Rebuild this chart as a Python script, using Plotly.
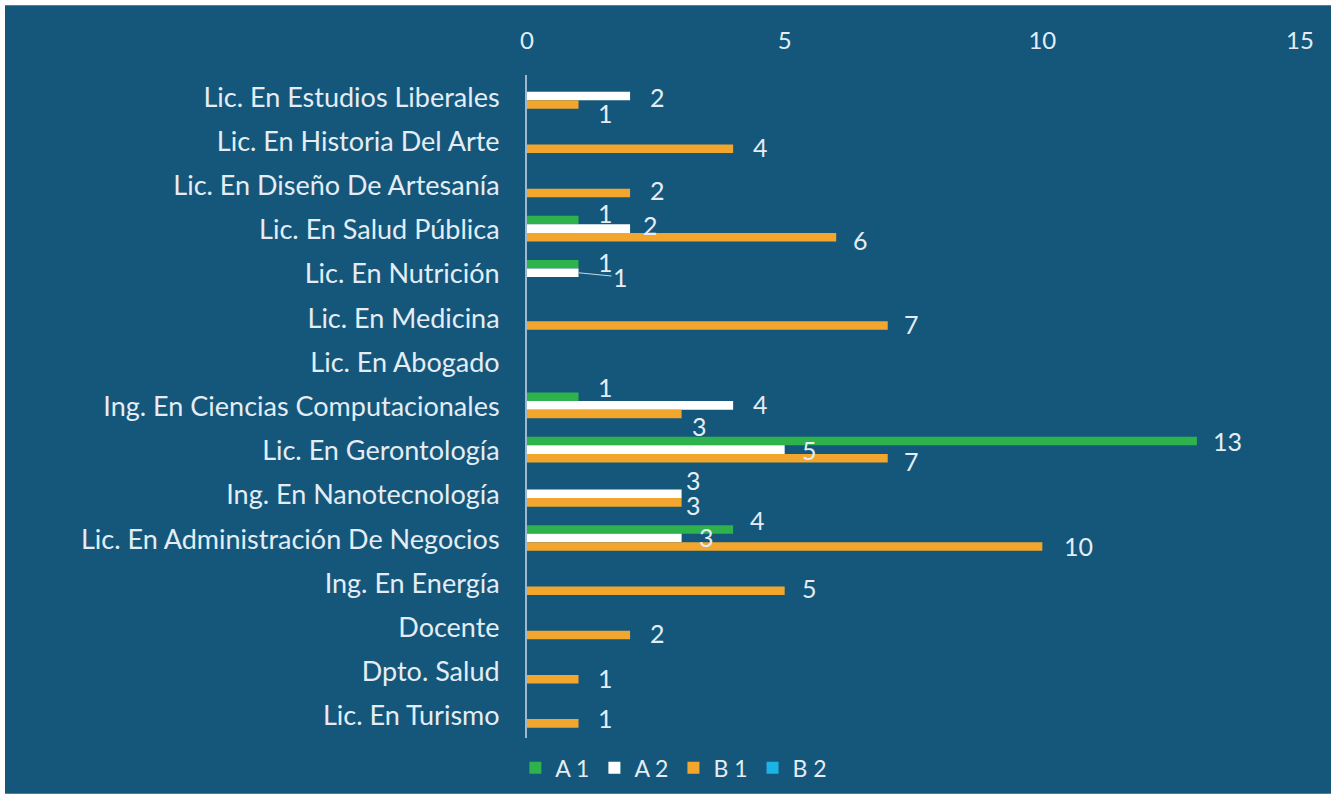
import plotly.graph_objects as go

categories = [
    "Lic. En Estudios Liberales",
    "Lic. En Historia Del Arte",
    "Lic. En Diseño De Artesanía",
    "Lic. En Salud Pública",
    "Lic. En Nutrición",
    "Lic. En Medicina",
    "Lic. En Abogado",
    "Ing. En Ciencias Computacionales",
    "Lic. En Gerontología",
    "Ing. En Nanotecnología",
    "Lic. En Administración De Negocios",
    "Ing. En Energía",
    "Docente",
    "Dpto. Salud",
    "Lic. En Turismo",
]
a1 = [0, 0, 0, 1, 1, 0, 0, 1, 13, 0, 4, 0, 0, 0, 0]
a2 = [2, 0, 0, 2, 1, 0, 0, 4, 5, 3, 3, 0, 0, 0, 0]
b1 = [1, 4, 2, 6, 0, 7, 0, 3, 7, 3, 10, 5, 2, 1, 1]
b2 = [0, 0, 0, 0, 0, 0, 0, 0, 0, 0, 0, 0, 0, 0, 0]
xticks = [0, 5, 10, 15]

series = [("A 1", a1, "#2eb24b"), ("A 2", a2, "#ffffff"),
          ("B 1", b1, "#f2a62e"), ("B 2", b2, "#1cb3e6")]

# styling: bar offsets within a category (category units) and label pixel shifts
BAR_W = 0.194
BAR_OFF = [-0.316, -0.122, 0.072, 0.266]
DEFAULT_SHIFT = (27, 0)
LABEL_SHIFT = {  # (series index, category index): (dx px right, dy px down from category centre)
    (1, 0): (27, 0), (2, 0): (27, 16),
    (2, 1): (27, 6), (2, 2): (27, 4),
    (0, 3): (27, -17), (1, 3): (20, -5), (2, 3): (24, 10),
    (0, 4): (27, -12), (1, 4): (42, 3),
    (2, 5): (24, 6),
    (0, 7): (27, -20), (1, 7): (27, -3), (2, 7): (18, 19),
    (0, 8): (31, -10), (1, 8): (25, -1), (2, 8): (24, 10),
    (1, 9): (12, -15), (2, 9): (12, 10),
    (0, 10): (24, -19), (1, 10): (25, -2), (2, 10): (36, 7),
    (2, 11): (25, 5), (2, 12): (27, 5), (2, 13): (27, 6), (2, 14): (27, 2),
}
LEADER = {(1, 4)}

BG = "#15577a"
TXT = "#e4edf5"
FONT = "Lato"

W, H = 1336, 801
L, R, T, B = 527, 36, 75, 61
pw, ph = W - L - R, H - T - B
cat_px = ph / len(categories)

fig = go.Figure()
annotations = []
for si, (name, vals, col) in enumerate(series):
    fig.add_trace(go.Bar(
        y=categories, x=vals, name=name, orientation="h",
        width=BAR_W, offset=BAR_OFF[si],
        marker=dict(color=col, line=dict(width=0)),
        hoverinfo="x+y+name",
    ))
    for ci, v in enumerate(vals):
        if not v:
            continue
        dx, dy = LABEL_SHIFT.get((si, ci), DEFAULT_SHIFT)
        if (si, ci) in LEADER:
            bar_dy = (BAR_OFF[si] + BAR_W / 2) * cat_px
            annotations.append(dict(
                x=v, y=categories[ci], xref="x", yref="y", text=str(v),
                showarrow=True, arrowhead=0, arrowwidth=1, arrowcolor="#c9d8e6",
                ax=dx, ay=dy - bar_dy, yshift=-bar_dy, standoff=0,
                font=dict(color=TXT, size=25, family=FONT)))
        else:
            annotations.append(dict(
                x=v, y=categories[ci], xref="x", yref="y", text=str(v),
                showarrow=False, xshift=dx, yshift=-dy,
                xanchor="center", yanchor="middle", borderpad=0,
                font=dict(color=TXT, size=25, family=FONT)))

fig.update_layout(
    width=W, height=H,
    margin=dict(l=L, r=R, t=T, b=B),
    paper_bgcolor=BG, plot_bgcolor=BG,
    barmode="group",
    font=dict(family=FONT, color=TXT, size=26),
    xaxis=dict(side="top", range=[0, 15], tickvals=xticks,
               showgrid=False, zeroline=False, showline=False,
               ticklabelstandoff=20,
               tickfont=dict(size=24, color=TXT, family=FONT), ticks=""),
    yaxis=dict(range=[len(categories) - 0.5, -0.5], showgrid=False, zeroline=False,
               showline=True, linecolor="#9fb8cf", linewidth=2,
               ticks="", ticklabelstandoff=20,
               tickfont=dict(size=27, color=TXT, family=FONT)),
    legend=dict(orientation="h", x=0.19, xanchor="center", y=-0.045,
                yanchor="middle", font=dict(size=23, color=TXT, family=FONT),
                itemwidth=30, bgcolor="rgba(0,0,0,0)", traceorder="normal"),
    showlegend=True,
    annotations=annotations,
    shapes=[dict(type="rect", xref="paper", yref="paper",
                 x0=-L / pw, x1=1 + R / pw, y0=-B / ph, y1=1 + T / ph,
                 line=dict(color="white", width=10), fillcolor="rgba(0,0,0,0)",
                 layer="above")],
)

fig.write_html("out.html", config={"displayModeBar": False},
               post_script="document.body.style.margin='0';")
